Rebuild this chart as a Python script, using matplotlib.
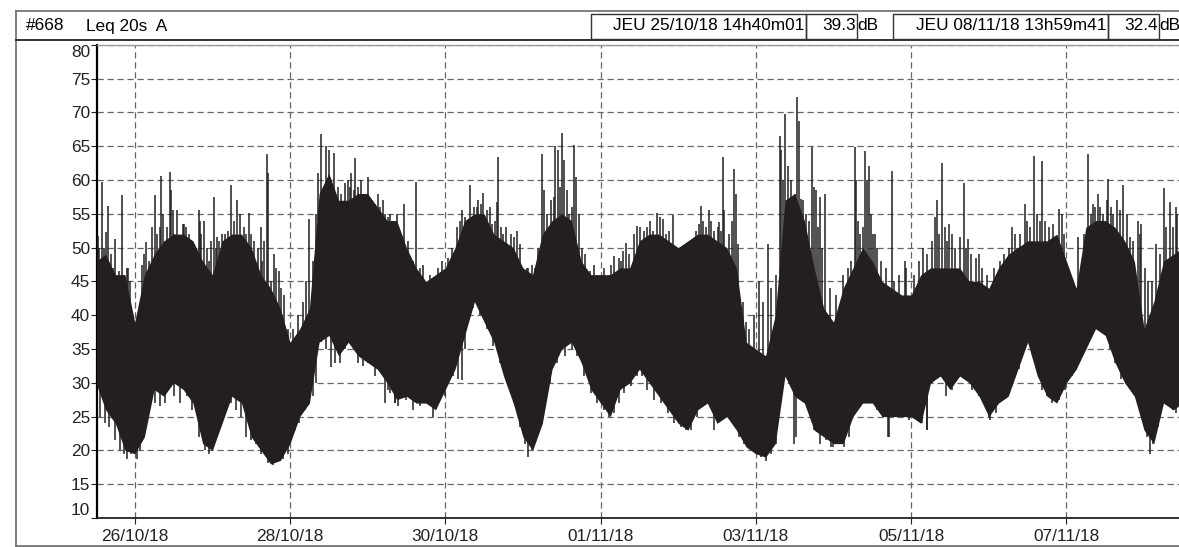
import matplotlib
matplotlib.use("Agg")
import matplotlib.pyplot as plt
import matplotlib.dates as mdates
from matplotlib.patches import Rectangle
import numpy as np
from datetime import datetime

plt.rcParams['font.family'] = ['Liberation Sans', 'DejaVu Sans']

# === Données ===
# heures comptées depuis le 26/10/18 00h00
T0 = datetime(2018, 10, 26)
env_start, env_step = -12, 3
env_hi = [48, 49, 46, 46, 39, 46, 49, 51, 52, 52, 51, 48, 46, 51, 52, 52,
          50, 46, 44, 41, 36, 38, 41, 58, 61, 57, 57, 58, 58, 56, 54, 54,
          50, 47, 45, 46, 47, 50, 54, 55, 55, 52, 51, 50, 47, 46, 52, 54,
          55, 54, 48, 46, 46, 46, 47, 47, 51, 52, 52, 51, 50, 51, 52, 52,
          51, 50, 47, 36, 35, 34, 40,
          57, 58, 54, 47, 41, 39, 44, 47, 50, 48, 45, 44, 43, 43, 46, 47,
          47, 47, 47, 45, 45, 44, 47, 49, 50, 51, 51, 51, 52, 48, 44, 53,
          54, 54, 53, 51, 48, 38, 42, 48, 49, 50]
env_lo = [30, 26, 24, 20, 19.5, 22, 29, 28, 30, 29, 27, 21, 20, 24, 28, 27,
          22, 20, 18, 18.5, 21, 25, 27, 36, 37, 34, 36, 34, 33, 32, 30, 27.5,
          28, 27, 27, 26, 29, 32, 37, 42, 39, 36, 31, 27, 22, 20, 24, 32,
          35, 36, 33, 29, 27, 25, 29, 30, 32, 30, 28, 26, 24, 23, 26, 27,
          24, 25, 23, 20.5, 19.5, 19, 21,
          31, 28, 27, 23, 22, 21, 21, 25, 27, 27, 25, 25, 25, 25, 24, 30,
          31, 29, 31, 30, 28, 25, 27, 28, 32, 36, 31, 28, 27, 30, 32, 35,
          38, 37, 33, 30, 28, 23, 21, 27, 26, 27]

# grands pics isolés (heure, dB)
spike_h = [-11.3, -10.0, -8.9, -8.2, -6.1, -4.9, -4.0, -2.5, 6.3, 8.2, 10.8,
           11.2, 11.7, 13.1, 15.1, 19.8, 20.6, 21.4, 24.5, 25.5, 29.9, 31.7,
           35.4, 39.0, 40.8, 41.1, 43.1, 44.7, 54.0, 57.7, 59.2, 60.2, 61.6,
           64.4, 66.0, 67.0, 68.2, 70.1, 72.2, 75.1, 76.6, 79.0, 81.9, 83.2,
           87.1, 89.2, 101.1, 103.7, 106.2, 107.8, 110.4, 112.1, 112.4,
           114.0, 118.1, 122.8, 125.9, 126.4, 130.0, 130.7, 132.1, 132.6,
           135.7, 136.5, 140.6, 148.1, 149.7, 151.9, 155.4, 159.3, 161.6,
           163.3, 166.5, 175.2, 177.6, 180.7, 181.8, 185.3, 185.9, 193.1,
           195.7, 199.6, 199.9, 200.9, 204.8, 205.3, 206.0, 209.4, 209.9,
           210.7, 211.7, 213.5, 222.5, 223.0, 223.7, 225.7, 226.3, 227.1,
           228.9, 234.0, 238.2, 247.9, 249.6, 251.7, 256.3, 257.6, 260.9,
           271.2, 275.1, 277.9, 280.4, 285.6, 294.8, 296.3, 297.9, 300.9,
           303.5, 305.6, 310.0, 311.2, 315.8, 318.2, 319.9, 322.0]
spike_db = [51.7, 59.7, 52.3, 56.1, 51.2, 46.5, 57.8, 47, 57.8, 60.6, 61.2,
            58.5, 55.5, 55.5, 53.5, 55.5, 52, 54, 57.5, 51.5, 59.3, 57.1,
            55.1, 53, 63.8, 61, 49, 46.5, 54.3, 66.8, 65, 64.5, 64,
            56, 60, 61, 63.3, 60, 60.5, 58, 57, 55, 51.5, 56.4,
            59.7, 47.5, 55.5, 59.3, 57, 58.1, 53.5, 56.8, 63.4,
            52, 52.5, 47.5, 63.8, 58.5, 65, 64.5, 67, 63,
            65.2, 60.5, 46.5, 48.7, 48.5, 50.7, 53.2, 54, 55.1,
            54.3, 54.8, 56.1, 55.5, 53.8, 63.4, 61.6, 58, 45,
            50.5, 66.5, 64.5, 69.7, 72.3, 68.7, 57.2, 64.9, 59,
            58.5, 57.5, 58, 64.9, 60, 54, 64.3, 60, 62,
            52, 61.4, 48, 57, 62.5, 53.5, 59.6, 51.2, 49,
            53, 56.4, 63.5, 62.8, 55.7, 63.9, 56.5, 57.9, 60.2,
            57, 59.2, 54, 53.5, 50.5, 58.8, 56.7, 56]

# petits pics au-dessus de la masse (heure, dB)
minor_h = [-11.0, -10.5, -9.4, -8.5, -7.2, -6.6, -5.4, -3.5, -2.0, -1.5,
           2.2, 2.9, 3.4, 4.3, 5.3, 6.8, 7.7, 8.9, 10.0, 12.2, 14.1, 14.9,
           16.0, 16.7, 17.4, 18.8, 20.3, 22.2, 23.1, 23.6, 25.0, 26.0, 27.1,
           27.9, 28.8, 30.7, 32.6, 33.8, 34.5, 36.1, 36.9, 38.0, 39.5, 40.0,
           42.1, 43.8, 45.2, 46.2, 47.3, 48.8, 50.4, 52.0, 53.0, 55.1, 56.1,
           56.8, 62.8, 63.9, 65.1, 66.5, 67.8, 69.1, 71.1, 73.2, 74.2, 75.8,
           77.4, 78.4, 80.0, 81.0,
           84.5, 86.1, 88.1, 91.2, 93.8, 94.9, 96.9, 98.0, 99.7, 100.5,
           102.1, 102.8, 104.9, 105.7, 106.9, 108.8, 109.9, 111.4, 113.2,
           114.8, 116.3, 117.1, 119.0, 121.2, 121.7, 123.8, 124.8, 127.4,
           128.7, 129.5, 131.4, 133.6, 134.2, 135.2, 137.3, 138.3, 139.3,
           141.9, 142.9, 145.2, 147.1, 150.2, 151.0, 152.8, 154.3, 156.2,
           157.4, 158.5, 160.3, 162.4, 164.3, 165.3, 167.2, 169.3, 170.9,
           171.9, 173.4, 174.5, 175.8, 176.5, 178.1, 179.1, 180.2, 181.2,
           182.3, 183.8, 184.5, 186.4, 187.9, 189.0, 190.0, 191.5, 194.1,
           196.7, 198.3,
           200.4, 201.9, 203.0, 204.0, 206.6, 207.6, 208.4, 211.2, 212.5,
           214.8, 216.8, 218.9, 220.4, 221.4, 224.2, 225.0, 227.6, 228.3,
           229.6, 230.7, 232.2, 234.8, 236.3, 238.4, 240.9, 242.5, 243.7,
           245.0, 246.6, 247.4, 248.6, 250.4, 251.2, 252.7, 253.7, 255.1,
           257.0, 258.4, 259.9, 261.9, 263.5, 265.5, 267.6, 268.6, 270.2,
           272.0, 272.7, 273.8, 275.8, 276.8, 278.9, 279.9, 281.5, 282.7,
           284.0, 286.6, 287.4, 289.7, 291.7, 293.3, 295.6, 296.8, 298.4,
           299.4, 300.4, 301.8, 302.5, 304.5, 306.6, 307.6, 308.6, 310.7,
           312.2, 313.3, 314.3, 316.8, 318.9, 321.0, 322.3]
minor_db = [50, 47, 50, 48, 49, 47, 45, 46, 47, 45,
            47.5, 49, 50.8, 48, 53, 52, 53, 55, 53, 52, 51, 53.5,
            53, 52, 50, 50, 54, 50, 48, 51, 50, 51, 52,
            52, 52.5, 54, 55, 53, 52, 52, 51, 50, 48, 51,
            45, 47, 44, 43, 38, 38, 40, 42, 45, 48, 55,
            61, 59, 58, 59.5, 59, 58.5, 59, 58, 57, 56.5, 56,
            55, 54.5, 53, 55,
            51, 48, 47, 46, 47, 48, 48.5, 50, 53, 54,
            54.5, 54, 56, 56, 56.5, 55.5, 56, 54, 53,
            53, 52, 51.5, 50.5, 47, 47, 47, 50, 55,
            57, 57.5, 59, 58.5, 55, 56, 55, 50, 49,
            47.5, 46, 47, 47.5, 48, 49.5, 49, 52, 53,
            52.5, 53, 52.5, 54.5, 52, 52.5, 50, 49, 50,
            51, 52.5, 53.5, 54, 53, 54, 52.5, 53, 52.5,
            55.5, 52, 54, 50.5, 42, 39, 38, 40, 42,
            44, 46,
            60, 62, 60, 58, 57, 55, 54, 53, 50,
            44, 43, 46, 47, 48, 52, 53, 55, 52,
            50, 48, 47, 45, 46, 47, 46, 48, 50,
            49, 51, 54.5, 52, 53, 51, 52, 50, 51.5,
            50, 49, 48.5, 47, 46, 47, 48, 49, 50,
            52, 50, 52, 54, 53, 55, 54, 54, 53,
            53.5, 55, 52, 41, 51.5, 52, 55, 56, 56,
            55, 57, 56, 55, 55.5, 55, 51.5, 51, 52,
            47, 45, 45, 49, 53, 53, 55]

# creux sous la masse (heure, dB)
dip_h = [-10.8, -9.2, -7.9, -6.1, -4.6, -3.3, -2.5, -1.2, 0.6, 1.5, 2.7,
         4.3, 6.3, 7.9, 9.4, 12.0, 14.1, 16.2, 17.7, 19.8, 21.6, 22.9, 24.5,
         26.5, 28.1, 29.7, 31.2, 32.8, 34.3, 35.9, 37.4, 39.0, 41.1, 42.6,
         44.2, 45.7, 47.3, 49.4, 50.9, 52.5, 55.1, 56.1, 57.7, 59.2, 60.8,
         61.8, 63.4, 64.9, 67.0, 69.1, 70.6, 72.2, 74.2, 76.3, 78.4, 80.5,
         81.5,
         77.3, 78.8, 80.4, 82.5, 84.0, 86.1, 88.1, 90.2, 92.3, 93.8, 95.9,
         98.5, 100.0, 101.1, 102.1, 104.7, 106.8, 108.8, 110.9, 113.0,
         115.0, 117.1, 119.2, 120.7, 121.7, 122.8, 124.3, 126.4, 128.5,
         130.5, 133.1, 135.2, 136.7, 138.8, 140.9, 142.9, 145.0, 146.6,
         148.1, 149.7, 151.2, 153.3, 155.4, 156.9, 158.5, 160.5, 162.6,
         164.7, 166.7, 168.8, 170.3, 171.9, 173.9, 176.0, 177.6, 179.1,
         180.2, 182.2, 184.3, 185.3, 186.9, 188.4, 190.5, 192.1, 193.6,
         195.0, 196.7, 198.3,
         200.4, 201.9, 203.7, 204.3, 205.5, 207.1, 208.6, 210.1, 211.7,
         213.7, 215.3, 215.8, 217.3, 219.4, 220.9, 223.0, 225.0, 226.6,
         228.1, 229.6, 231.2, 233.0, 233.2, 235.3, 237.3, 239.4, 241.4,
         243.5, 244.8, 245.0, 246.6, 248.6, 250.7, 252.7, 254.8, 256.8,
         258.9, 260.9, 262.5, 264.2, 264.5, 266.1, 267.3, 269.1, 271.2,
         273.2, 275.3, 277.3, 278.9, 280.4, 282.0, 283.5, 285.6, 287.6,
         289.7, 291.7, 293.8, 295.8, 297.9, 299.9, 301.5, 303.0, 305.0,
         307.1, 308.6, 310.2, 311.4, 312.8, 313.8, 314.8, 316.3, 317.9,
         319.4, 321.0, 322.0]
dip_db = [25, 24, 23.5, 21.5, 20, 19.5, 18.7, 19.5, 18.7, 20, 22,
          25.5, 27, 26.5, 27, 28, 27, 28, 26, 22, 20, 19.5, 21.5,
          24, 26, 27, 26, 25, 22, 21.5, 21, 19.5, 18.2, 17.8,
          18.5, 18.8, 19.5, 23, 24, 26, 28, 30, 36, 35, 32.4,
          33, 33, 35, 36, 33, 32.5, 33, 31, 31.5, 29, 27,
          26.5,
          27, 28.5, 27, 28, 27.5, 26, 26.5, 27, 25, 27, 28,
          31, 30.5, 30.4, 35, 41, 40, 38, 35.5, 33,
          30, 27, 23.5, 21, 19, 20, 22.5, 27, 30,
          33, 34, 35, 34, 31, 28.5, 27, 26, 25,
          25.5, 27, 28.5, 29.5, 31, 31, 29, 27.5, 27,
          25.5, 24, 23.5, 23, 23, 25, 27, 27.5, 23,
          24, 25.5, 25, 24, 22, 21, 20.5, 19.5, 19,
          18.5, 19.5, 21,
          30, 31, 21, 22, 29, 28, 27.5, 23, 21,
          21.5, 20.5, 20.5, 21.5, 20.5, 22, 27, 28, 27,
          28.5, 26, 25, 22, 22, 26, 25, 24.5, 25,
          24, 23, 23, 30, 32, 28, 29, 31, 30.5,
          29, 28, 27, 25, 24.5, 25.5, 27, 28, 30,
          32, 35, 35, 32, 29, 28, 27, 27.5, 29,
          31, 33, 35, 37, 40, 38, 35, 33, 30.5,
          29.5, 29, 27, 25, 22, 19.5, 21, 23.5, 27,
          27, 26, 25.5]

tick_days = [datetime(2018, 10, 26), datetime(2018, 10, 28), datetime(2018, 10, 30),
             datetime(2018, 11, 1), datetime(2018, 11, 3), datetime(2018, 11, 5),
             datetime(2018, 11, 7)]
y_ticks = [10, 15, 20, 25, 30, 35, 40, 45, 50, 55, 60, 65, 70, 75, 80]

header_left = ["#668", "Leq 20s  A"]
cursor1 = ("JEU 25/10/18 14h40m01", "39.3")
cursor2 = ("JEU 08/11/18 13h59m41", "32.4")

# === Conversion heures -> dates matplotlib ===
t0 = mdates.date2num(T0)
env_h = env_start + env_step * np.arange(len(env_hi))
x_env = t0 + env_h / 24.0

up_h = np.array(spike_h + minor_h)
up_db = np.array(spike_db + minor_db)
x_up = t0 + up_h / 24.0
base_up = np.interp(up_h, env_h, env_hi) - 3

x_dip = t0 + np.array(dip_h) / 24.0
base_dip = np.interp(dip_h, env_h, env_lo) + 3

# === Figure ===
W, H = 1179, 547
fig = plt.figure(figsize=(W / 100, H / 100), dpi=100)

bg = fig.add_axes([0, 0, 1, 1])
bg.set_xlim(0, W)
bg.set_ylim(H, 0)
bg.axis('off')

frame_col = '#6a6a6a'
bg.plot([16, 16], [11, 546], color=frame_col, lw=1.2)
bg.plot([16, W], [11, 11], color=frame_col, lw=1.2)
bg.plot([16, W], [546, 546], color=frame_col, lw=1.2)
bg.plot([16, W], [39.5, 39.5], color='#333333', lw=1.4)

bg.text(26, 26, header_left[0], fontsize=12.4, va='center', ha='left')
bg.text(86, 26, header_left[1], fontsize=12.4, va='center', ha='left')

for (x0, x1, x2), (label, val) in zip([(591, 806, 857), (893, 1108, 1159)],
                                      [cursor1, cursor2]):
    bg.add_patch(Rectangle((x0, 14), x1 - x0, 25, fill=False, ec='#333333', lw=1.0))
    bg.add_patch(Rectangle((x1, 14), x2 - x1, 25, fill=False, ec='#333333', lw=1.0))
    bg.text(x1 - 2, 26, label, fontsize=12.4, va='center', ha='right')
    bg.text(x2 - 1, 26, val, fontsize=12.4, va='center', ha='right')
    bg.text(x2, 26, "dB", fontsize=12.4, va='center', ha='left')

ax = fig.add_axes([97 / W, (H - 518) / H, (W - 97) / W, (518 - 44.8) / H])
ax.set_facecolor('none')

ink = '#231f20'
ax.fill_between(x_env, env_lo, env_hi, color=ink, lw=0, zorder=3)
ax.vlines(x_up, base_up, up_db, color=ink, lw=1.1, zorder=3)
ax.vlines(x_dip, dip_db, base_dip, color=ink, lw=1.1, zorder=3)

ax.set_xlim(t0 - 11.65 / 24, t0 + 322.8 / 24)
ax.set_ylim(10, 80)
ax.set_yticks(y_ticks)
ax.set_xticks(mdates.date2num(tick_days))
ax.xaxis.set_major_formatter(mdates.DateFormatter('%d/%m/%y'))

ax.grid(True, color='#666666', linestyle=(0, (5, 3)), linewidth=0.9, zorder=1)
ax.set_axisbelow(True)

ax.spines['right'].set_visible(False)
ax.spines['top'].set_color('#999999')
ax.spines['top'].set_linewidth(1.0)
ax.spines['left'].set_color('black')
ax.spines['left'].set_linewidth(1.6)
ax.spines['bottom'].set_color('#222222')
ax.spines['bottom'].set_linewidth(1.3)

ax.tick_params(axis='y', direction='out', length=4.5, width=0.8, pad=0.5,
               labelsize=12.4, colors='#222222')
ax.tick_params(axis='x', direction='out', length=4, width=0.8, pad=4,
               labelsize=12.4, colors='#222222')
ylabels = ax.get_yticklabels()
ylabels[0].set_va('bottom')
ylabels[-1].set_va('top')

fig.savefig('out.png', dpi=100)
